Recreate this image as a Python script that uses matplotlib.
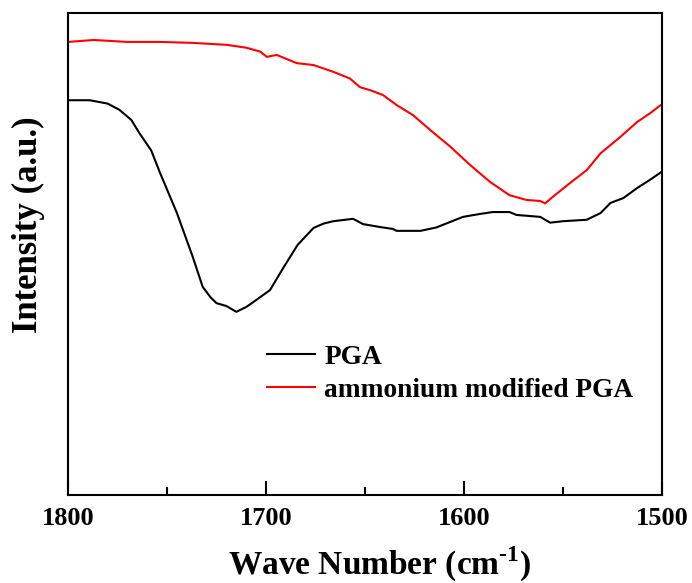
import matplotlib.pyplot as plt

plt.rcParams["font.family"] = ["Liberation Serif", "DejaVu Serif"]
plt.rcParams["font.weight"] = "bold"
plt.rcParams["mathtext.fontset"] = "custom"
plt.rcParams["mathtext.rm"] = "Liberation Serif:bold"
plt.rcParams["mathtext.bf"] = "Liberation Serif:bold"

# PGA spectrum (wave number, intensity in arbitrary units)
pga_wn = [1800, 1789, 1780, 1774, 1768, 1764, 1758, 1753.5, 1745, 1737, 1732,
          1728, 1725, 1720, 1715, 1710, 1706.5, 1698, 1691, 1684, 1676, 1671,
          1666, 1660, 1656, 1651, 1642.5, 1636, 1634, 1622, 1614, 1600.5,
          1592, 1585.5, 1577, 1573.5, 1561.5, 1556.5, 1550, 1538, 1531, 1526,
          1519.5, 1512.5, 1506, 1500]
pga_int = [81.9, 81.9, 81.2, 79.9, 77.8, 75.1, 71.5, 66.8, 58.5, 49.4, 43.2,
           41.0, 39.8, 39.2, 38.0, 39.0, 40.0, 42.5, 47.3, 51.9, 55.4, 56.3,
           56.8, 57.1, 57.3, 56.2, 55.6, 55.2, 54.8, 54.8, 55.5, 57.7,
           58.3, 58.7, 58.7, 58.1, 57.7, 56.5, 56.8, 57.1, 58.5, 60.6,
           61.6, 63.7, 65.4, 67.1]

# ammonium modified PGA spectrum
am_wn = [1800, 1787, 1770, 1753.5, 1737, 1720, 1710, 1703, 1699.6, 1694.6,
         1684.5, 1676, 1666, 1657.6, 1652.5, 1647.5, 1641, 1634, 1625.7, 1617,
         1607, 1597, 1587, 1577, 1568.4, 1561.5, 1559, 1555, 1546.5, 1538,
         1531, 1521, 1512.5, 1506, 1500]
am_int = [94.0, 94.4, 94.0, 94.0, 93.8, 93.4, 92.8, 92.0, 90.9, 91.3,
          89.6, 89.2, 87.8, 86.4, 84.6, 84.0, 83.0, 80.9, 78.8, 75.7,
          72.3, 68.5, 65.0, 62.2, 61.2, 61.0, 60.5, 61.9, 64.7, 67.4,
          70.9, 74.3, 77.4, 79.2, 81.1]

fig = plt.figure(figsize=(6.92, 5.83), dpi=100)
ax = fig.add_axes([0.0983, 0.151, 0.8583, 0.8267])

ax.plot(pga_wn, pga_int, color="black", lw=1.5, label="PGA")
ax.plot(am_wn, am_int, color="red", lw=1.5, label="ammonium modified PGA")

ax.set_xlim(1800, 1500)
ax.set_ylim(0, 100)
ax.set_xticks([1800, 1700, 1600, 1500])
ax.set_xticks([1750, 1650, 1550], minor=True)
ax.set_yticks([])
ax.tick_params(axis="x", which="major", direction="in", length=10, width=1.5,
               labelsize=19, pad=9)
ax.tick_params(axis="x", which="minor", direction="in", length=6, width=1.5)
for s in ax.spines.values():
    s.set_linewidth(1.5)

ax.set_xlabel("Wave Number (cm$^{\\text{-1}}$)", fontsize=24, fontweight="bold")
ax.xaxis.set_label_coords(0.525, -0.145)
ax.xaxis.label.set_va("center")
ax.set_ylabel("Intensity (a.u.)", fontsize=25, fontweight="bold")
ax.yaxis.set_label_coords(-0.066, 0.56)
ax.yaxis.label.set_va("center")

ax.legend(loc="upper left", bbox_to_anchor=(0.316, 0.335), frameon=False,
          handlelength=1.75, handletextpad=0.36, labelspacing=0.3,
          borderaxespad=0, prop={"weight": "bold", "size": 19.7})

fig.savefig("out.png", dpi=100)
